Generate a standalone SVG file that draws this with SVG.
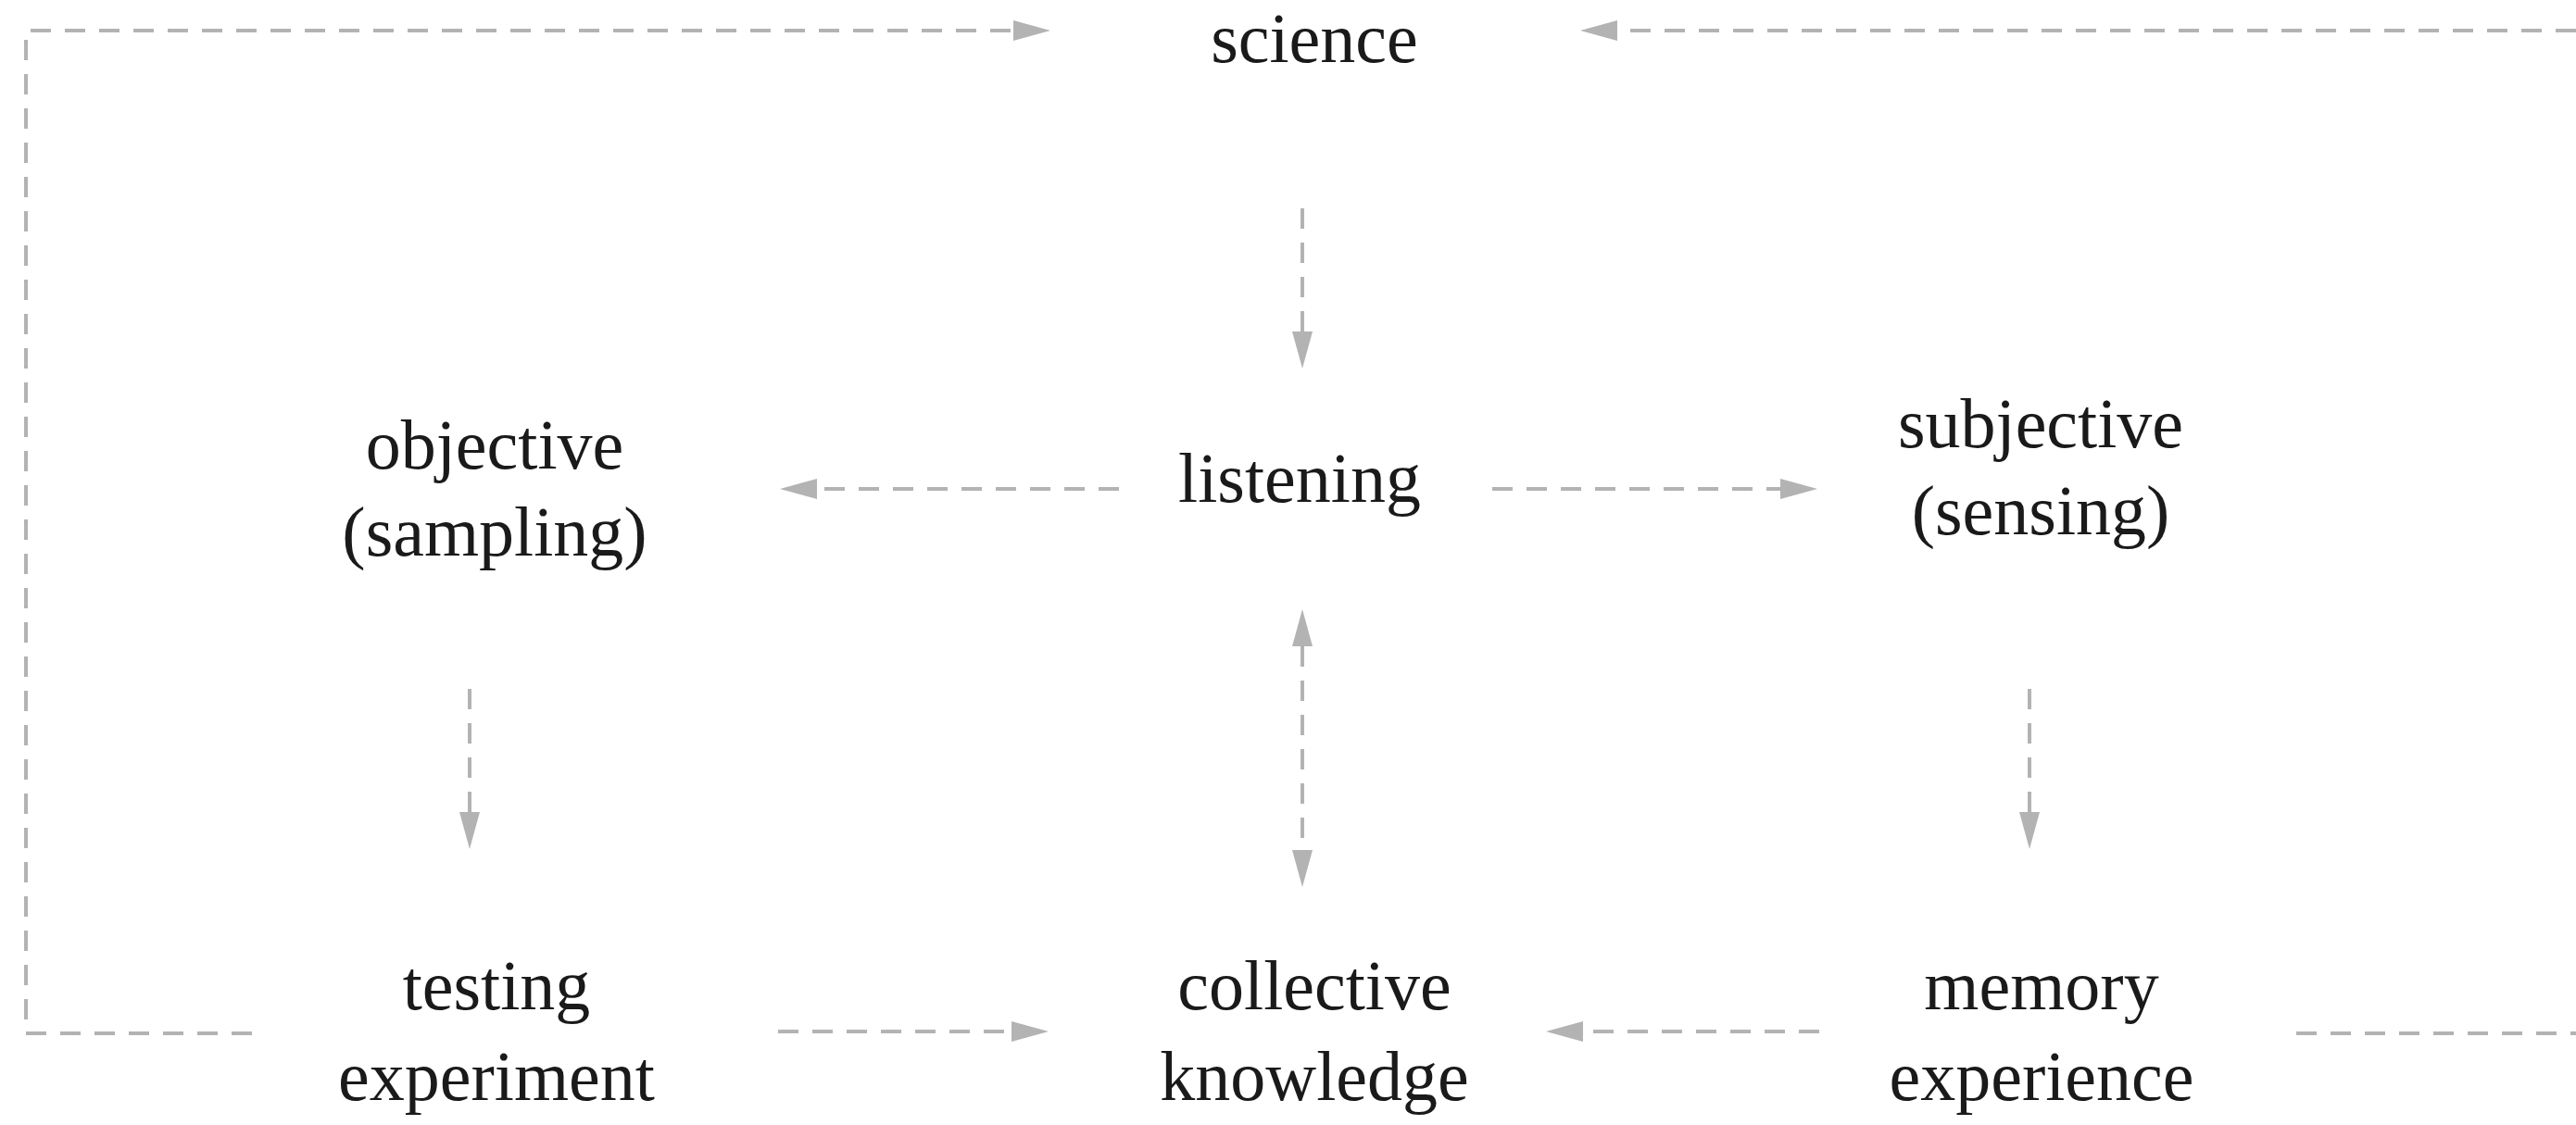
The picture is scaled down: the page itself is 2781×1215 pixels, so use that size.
<svg xmlns="http://www.w3.org/2000/svg" width="2781" height="1215" viewBox="0 0 2781 1215">
<style>
.c{fill:none;stroke:#b3b3b3;stroke-width:4;stroke-dasharray:22 15}
.t{font-family:"Liberation Serif","Times New Roman",serif;font-size:76px;fill:#1a1a1a;text-anchor:middle}
</style>
<defs>
<marker id="ah" markerUnits="userSpaceOnUse" markerWidth="40" markerHeight="22" refX="0" refY="11" orient="auto-start-reverse" viewBox="0 0 40 22">
<path d="M0,0 L40,11 L0,22 z" fill="#b3b3b3"/>
</marker>
</defs>
<g id="connectors">
<path class="c" d="M272,1116 L28,1116 L28,33 L1094,33" marker-end="url(#ah)"/>
<path class="c" d="M2479,1116 L2810,1116 L2810,33 L1746,33" marker-end="url(#ah)"/>
<path class="c" d="M1406,225 L1406,358" marker-end="url(#ah)"/>
<path class="c" d="M1406,698 L1406,918" marker-start="url(#ah)" marker-end="url(#ah)"/>
<path class="c" d="M1208,528 L882,528" marker-end="url(#ah)"/>
<path class="c" d="M1611,528 L1922,528" marker-end="url(#ah)"/>
<path class="c" d="M507,744 L507,877" marker-end="url(#ah)"/>
<path class="c" d="M2191,744 L2191,877" marker-end="url(#ah)"/>
<path class="c" d="M840,1114 L1092,1114" marker-end="url(#ah)"/>
<path class="c" d="M1964,1114 L1709,1114" marker-end="url(#ah)"/>
</g>
<g id="science"><text class="t" x="1419" y="67">science</text></g>
<g id="listening"><text class="t" x="1403" y="542">listening</text></g>
<g id="objective"><text class="t" x="534" y="506">objective</text><text class="t" x="534" y="600">(sampling)</text></g>
<g id="subjective"><text class="t" x="2203" y="483">subjective</text><text class="t" x="2203" y="577">(sensing)</text></g>
<g id="testing"><text class="t" x="536" y="1090">testing</text><text class="t" x="536" y="1188">experiment</text></g>
<g id="collective"><text class="t" x="1419" y="1090">collective</text><text class="t" x="1419" y="1188">knowledge</text></g>
<g id="memory"><text class="t" x="2204" y="1090">memory</text><text class="t" x="2204" y="1188">experience</text></g>
</svg>
